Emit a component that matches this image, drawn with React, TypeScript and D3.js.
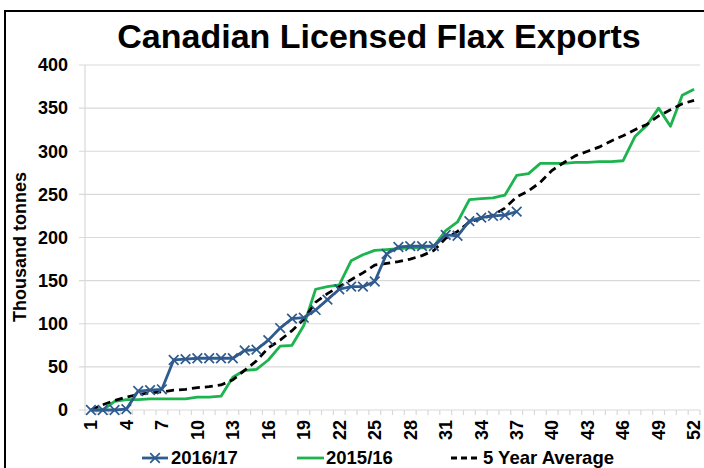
import React from 'react';
import * as d3 from 'd3';

const weeks = [1,2,3,4,5,6,7,8,9,10,11,12,13,14,15,16,17,18,19,20,21,22,23,24,25,26,27,28,29,30,31,32,33,34,35,36,37,38,39,40,41,42,43,44,45,46,47,48,49,50,51,52];
const tickWeeks = [1,4,7,10,13,16,19,22,25,28,31,34,37,40,43,46,49,52];
const yTicks = [0,50,100,150,200,250,300,350,400];

const series2016 = [0,0,0,1,22,23,24,58,59,60,60,60,60,69,70,81,95,106,107,116,128,140,143,143,149,181,189,190,190,190,203,202,219,223,225,226,230];
const series2015 = [0,0,10,12,12,13,13,13,13,15,15,16,38,46,47,58,74,75,98,140,143,145,173,180,185,186,187,188,188,190,208,218,244,245,246,249,272,274,286,286,286,287,287,288,288,289,317,330,350,329,365,372];
const series5yr = [0,6,11,15,18,20,21,23,24,26,27,29,35,46,57,72,81,92,105,125,135,143,151,159,168,170,172,175,179,185,199,207,218,222,226,234,247,254,264,278,287,295,300,305,312,318,325,331,341,348,355,359];

const legendLabels = ['2016/17', '2015/16', '5 Year Average'];

const FONT = 'Liberation Sans, Arial, sans-serif';
const BLUE = '#2f5b8e';
const GREEN = '#1db34f';

export default function App() {
  const W = 704, H = 468;
  const x = d3.scaleBand<number>().domain(weeks).range([85, 700]);
  const bw = x.bandwidth();
  const cx = (w: number) => (x(w) as number) + bw / 2;
  const y = d3.scaleLinear().domain([0, 400]).range([410, 65]);
  const mkLine = d3.line<number>().x((_, i) => cx(weeks[i])).y(d => y(d));

  const cross = (px: number, py: number, s: number, key: any) => (
    <path key={key} d={`M${px - s},${py - s}L${px + s},${py + s}M${px - s},${py + s}L${px + s},${py - s}`} stroke={BLUE} strokeWidth={1.7} fill="none" />
  );

  const boundaries = [...weeks.map(w => x(w) as number), 700];

  return (
    <svg width={W} height={H} style={{ position: 'absolute', left: 0, top: 0, display: 'block', background: '#fff' }} fontFamily={FONT}>
      <rect x={0} y={0} width={W} height={H} fill="#fff" />
      <path d={`M5,${H + 5}L5,11L${W + 5},11`} stroke="#000" strokeWidth={2} fill="none" />
      <text x={379} y={48} textAnchor="middle" fontSize={34} fontWeight="bold" fill="#000">Canadian Licensed Flax Exports</text>

      {yTicks.map(t => (
        <g key={t}>
          {t > 0 && <line x1={79} x2={700} y1={y(t)} y2={y(t)} stroke="#d9d9d9" strokeWidth={1.2} />}
          {t === 0 && <line x1={79} x2={85} y1={y(t)} y2={y(t)} stroke="#d9d9d9" strokeWidth={1.2} />}
          <text x={68} y={y(t)} dy="0.35em" textAnchor="end" fontSize={18} fontWeight="bold" fill="#000">{t}</text>
        </g>
      ))}
      <line x1={85} x2={85} y1={65} y2={410} stroke="#d9d9d9" strokeWidth={1.2} />
      <line x1={85} x2={700} y1={410} y2={410} stroke="#d9d9d9" strokeWidth={1.2} />
      {boundaries.map((b, i) => (
        <line key={i} x1={b} x2={b} y1={410} y2={415} stroke="#d9d9d9" strokeWidth={1.2} />
      ))}
      {tickWeeks.map(w => (
        <text key={w} transform={`translate(${cx(w)},420) rotate(-90)`} dy="0.35em" textAnchor="end" fontSize={18} fontWeight="bold" fill="#000">{w}</text>
      ))}

      <text transform={`translate(20,247) rotate(-90)`} textAnchor="middle" dy="0.35em" fontSize={18} fontWeight="bold" fill="#000">Thousand tonnes</text>

      <path d={mkLine(series2015) || ''} stroke={GREEN} strokeWidth={2.8} fill="none" strokeLinejoin="round" />
      <path d={mkLine(series5yr) || ''} stroke="#000" strokeWidth={2.8} fill="none" strokeDasharray="8,5" />
      <path d={mkLine(series2016) || ''} stroke={BLUE} strokeWidth={2.8} fill="none" strokeLinejoin="round" />
      {series2016.map((v, i) => cross(cx(weeks[i]), y(v), 4.8, i))}

      <g>
        <line x1={142} x2={168} y1={458} y2={458} stroke={BLUE} strokeWidth={2.8} />
        {cross(155, 458, 4.8, 'lg')}
        <text x={171} y={458} dy="0.35em" fontSize={18.5} fontWeight="bold" fill="#000">{legendLabels[0]}</text>
        <line x1={297} x2={324} y1={458} y2={458} stroke={GREEN} strokeWidth={2.8} />
        <text x={326} y={458} dy="0.35em" fontSize={18.5} fontWeight="bold" fill="#000">{legendLabels[1]}</text>
        <line x1={451} x2={481} y1={458} y2={458} stroke="#000" strokeWidth={2.8} strokeDasharray="6,4" />
        <text x={483} y={458} dy="0.35em" fontSize={18.5} fontWeight="bold" fill="#000">{legendLabels[2]}</text>
      </g>
    </svg>
  );
}
